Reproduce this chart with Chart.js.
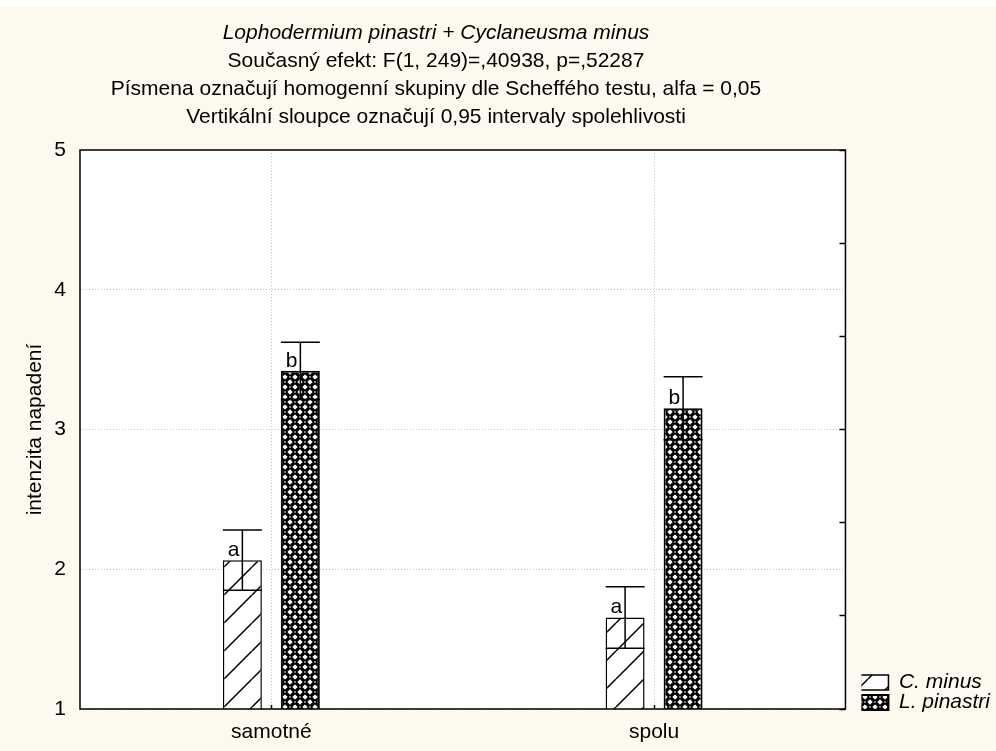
<!DOCTYPE html>
<html>
<head>
<meta charset="utf-8">
<script src="https://cdn.jsdelivr.net/npm/chart.js@4.4.1/dist/chart.umd.min.js"></script>
<style>
  html, body { margin: 0; padding: 0; background: #ffffff; }
  #wrap { position: absolute; left: 0; top: 7px; width: 996px; height: 744px; background: #fdf9ee; }
</style>
</head>
<body>
<div id="wrap"><canvas id="myBarChart"></canvas></div>
<script>
const categories = ['samotné', 'spolu'];
const seriesNames = ['C. minus', 'L. pinastri'];
const cMinusMeans = [2.065, 1.655];
const cMinusCI = [0.215, 0.22];
const lPinastriMeans = [3.42, 3.152];
const lPinastriCI = [0.205, 0.226];
const cMinusLetters = ['a', 'a'];
const lPinastriLetters = ['b', 'b'];
const yTicks = [1, 2, 3, 4, 5];
const titleLine = 'Lophodermium pinastri + Cyclaneusma minus';
const subtitleLines = [
  'Současný efekt: F(1, 249)=,40938, p=,52287',
  'Písmena označují homogenní skupiny dle Scheffého testu, alfa = 0,05',
  'Vertikální sloupce označují 0,95 intervaly spolehlivosti'
];
const yTitle = 'intenzita napadení';

const FONT = 'Arial, "Liberation Sans", sans-serif';
Chart.defaults.font.family = FONT;
Chart.defaults.font.size = 21;
Chart.defaults.color = '#000';

const ctx = document.getElementById('myBarChart').getContext('2d');

function hatchPattern() {
  const c = document.createElement('canvas');
  c.width = 28; c.height = 28;
  const g = c.getContext('2d');
  g.fillStyle = '#fff';
  g.fillRect(0, 0, 28, 28);
  g.strokeStyle = '#000';
  g.lineWidth = 1.5;
  g.beginPath();
  for (const o of [-28, 0, 28]) { g.moveTo(o, 28); g.lineTo(o + 28, 0); }
  g.stroke();
  return ctx.createPattern(c, 'repeat');
}

function weavePattern() {
  const s = 10, h = 5;
  const c = document.createElement('canvas');
  c.width = s; c.height = s;
  const g = c.getContext('2d');
  g.fillStyle = '#fff';
  g.fillRect(0, 0, s, s);
  g.strokeStyle = '#000';
  g.lineWidth = 3.3;
  g.beginPath();
  // checkerboard of short diagonal dashes
  g.moveTo(0.5, 0.5); g.lineTo(h - 0.5, h - 0.5);
  g.moveTo(h + 0.5, h - 0.5); g.lineTo(s - 0.5, 0.5);
  g.moveTo(0.5, s - 0.5); g.lineTo(h - 0.5, h + 0.5);
  g.moveTo(h + 0.5, h + 0.5); g.lineTo(s - 0.5, s - 0.5);
  g.stroke();
  return ctx.createPattern(c, 'repeat');
}

const errorData = [
  {means: cMinusMeans, ci: cMinusCI, letters: cMinusLetters},
  {means: lPinastriMeans, ci: lPinastriCI, letters: lPinastriLetters}
];

const plotStyle = {
  id: 'plotStyle',
  beforeDraw(chart) {
    const a = chart.chartArea;
    const c = chart.ctx;
    c.save();
    c.fillStyle = '#ffffff';
    c.fillRect(a.left, a.top, a.right - a.left, a.bottom - a.top);
    c.restore();
  },
  afterLayout(chart) {
    // STATISTICA centres its header a bit left of the plot
    chart.boxes.forEach(b => {
      if (b.options && b.options.text !== undefined) {
        b.left = 0;
        b.right = 872;
      }
    });
    // legend sits a little lower than the plot bottom
    if (chart.legend) {
      chart.legend.top += 3;
      chart.legend.bottom += 3;
    }
  },
  afterDatasetsDraw(chart) {
    const c = chart.ctx;
    const y = chart.scales.y;
    const a = chart.chartArea;
    c.save();
    c.strokeStyle = '#000';
    c.lineWidth = 1.5;
    errorData.forEach((d, i) => {
      const meta = chart.getDatasetMeta(i);
      meta.data.forEach((bar, j) => {
        const x = bar.x, hw = bar.width / 2;
        const hi = y.getPixelForValue(d.means[j] + d.ci[j]);
        const lo = y.getPixelForValue(d.means[j] - d.ci[j]);
        c.beginPath();
        c.moveTo(x, lo); c.lineTo(x, hi);
        c.moveTo(x - hw, hi); c.lineTo(x + hw, hi);
        c.moveTo(x - hw, lo); c.lineTo(x + hw, lo);
        c.stroke();
        c.fillStyle = '#000';
        c.font = '21px ' + FONT;
        c.textAlign = 'right';
        c.textBaseline = 'alphabetic';
        c.fillText(d.letters[j], x - 3, bar.y - 4);
      });
    });
    c.strokeRect(a.left, a.top, a.right - a.left, a.bottom - a.top);
    c.restore();
  }
};

const data = {
  labels: categories,
  datasets: [
    {
      label: seriesNames[0],
      data: cMinusMeans,
      backgroundColor: hatchPattern(),
      borderColor: '#000',
      borderWidth: 1.5,
      categoryPercentage: 0.303,
      barPercentage: 0.672
    },
    {
      label: seriesNames[1],
      data: lPinastriMeans,
      backgroundColor: weavePattern(),
      borderColor: '#000',
      borderWidth: 2,
      categoryPercentage: 0.303,
      barPercentage: 0.672
    }
  ]
};

const config = {
  type: 'bar',
  data: data,
  plugins: [plotStyle],
  options: {
    responsive: true,
    maintainAspectRatio: false,
    animation: false,
    layout: { padding: { left: 0, right: -4, top: 0, bottom: 0 } },
    scales: {
      x: {
        grid: {
          offset: false, color: '#c4c4c4', lineWidth: 1,
          tickLength: -4, tickColor: '#000', tickWidth: 1.5
        },
        border: { display: false, dash: [1, 2] },
        ticks: { padding: 15 },
        afterFit(s) { s.height = 42; }
      },
      y: {
        min: 1,
        max: 5,
        afterBuildTicks(s) { s.ticks = yTicks.map(v => ({ value: v })); },
        grid: { color: '#c4c4c4', lineWidth: 1, drawTicks: false },
        border: { display: false, dash: [1, 2] },
        ticks: { padding: 14 },
        title: { display: true, text: yTitle, padding: { top: 23, bottom: 0 } },
        afterFit(s) { s.width = 80; }
      },
      y2: {
        position: 'right',
        min: 0,
        max: 6,
        ticks: { stepSize: 1, display: false },
        grid: { drawOnChartArea: false, tickLength: -6, tickColor: '#000', tickWidth: 1.5 },
        border: { display: false },
        afterFit(s) { s.width = 16; }
      }
    },
    plugins: {
      title: {
        display: true,
        text: titleLine,
        font: { size: 21, style: 'italic', weight: 'normal', lineHeight: '28px' },
        padding: { top: 12, bottom: 0 }
      },
      subtitle: {
        display: true,
        text: subtitleLines,
        color: '#000',
        font: { size: 21, lineHeight: '28px' },
        padding: { top: 0, bottom: 19 }
      },
      legend: {
        position: 'right',
        align: 'end',
        fullSize: false,
        labels: {
          boxWidth: 28,
          boxHeight: 15,
          padding: -1,
          font: { size: 21, style: 'italic' }
        }
      },
      tooltip: { enabled: false }
    }
  }
};
const myChart = new Chart(ctx, config);
</script>
</body>
</html>
